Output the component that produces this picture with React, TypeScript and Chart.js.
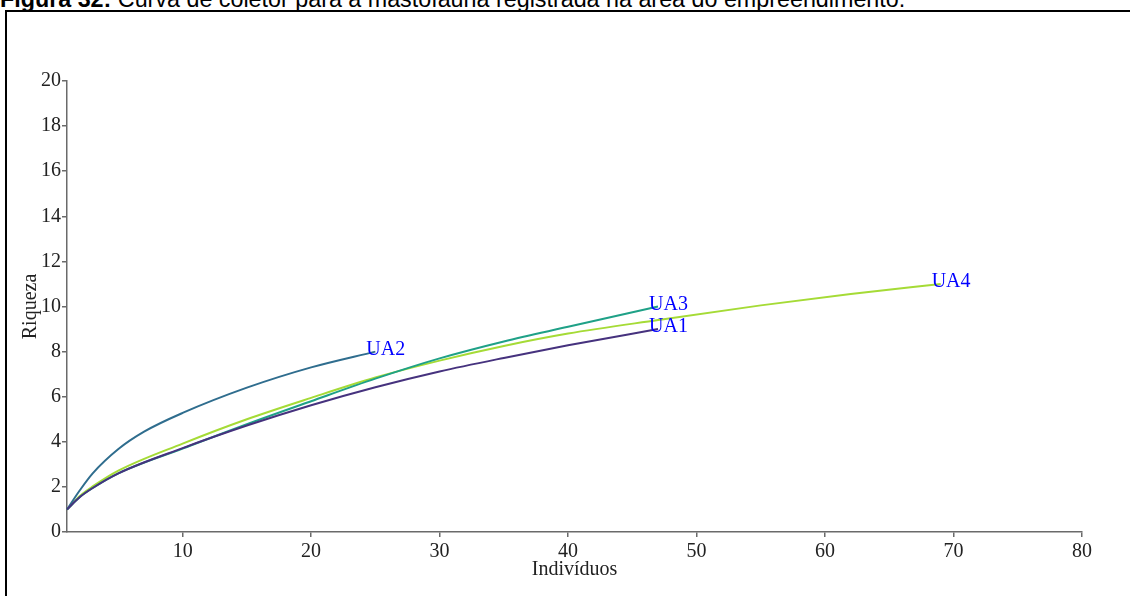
import React, { useEffect, useRef } from "react";
import { Chart, registerables } from "chart.js";

Chart.register(...registerables);

const seriesNames = ["UA1", "UA2", "UA3", "UA4"];
const seriesColors = ["#46327e", "#2f6d8e", "#1fa187", "#a5db36"];

const ua1X = [1, 2, 3, 5, 10, 15, 20, 25, 30, 35, 40, 47];
const ua1Y = [1, 1.55, 1.95, 2.6, 3.72, 4.72, 5.62, 6.42, 7.12, 7.72, 8.28, 9];

const ua2X = [1, 2, 3, 5, 7, 10, 15, 20, 25];
const ua2Y = [1, 1.85, 2.6, 3.68, 4.45, 5.28, 6.4, 7.3, 8];

const ua3X = [1, 2, 3, 5, 10, 15, 20, 25, 30, 35, 40, 47];
const ua3Y = [1, 1.55, 1.95, 2.6, 3.7, 4.78, 5.8, 6.8, 7.7, 8.45, 9.1, 10];

const ua4X = [1, 2, 3, 5, 10, 15, 20, 25, 30, 35, 40, 47, 55, 62, 69];
const ua4Y = [1, 1.6, 2.02, 2.72, 3.92, 5.0, 5.95, 6.85, 7.6, 8.25, 8.8, 9.4, 10.05, 10.55, 11];

const xTicks = [10, 20, 30, 40, 50, 60, 70, 80];
const yTicks = [0, 2, 4, 6, 8, 10, 12, 14, 16, 18, 20];

const allX = [ua1X, ua2X, ua3X, ua4X];
const allY = [ua1Y, ua2Y, ua3Y, ua4Y];

const serif = "'Liberation Serif', 'Times New Roman', serif";

const endLabels = {
  id: "endLabels",
  afterDatasetsDraw(chart: any) {
    const ctx = chart.ctx;
    const xs = chart.scales.x;
    const ys = chart.scales.y;
    ctx.save();
    ctx.font = `20px ${serif}`;
    ctx.fillStyle = "#0000ff";
    ctx.textAlign = "left";
    ctx.textBaseline = "alphabetic";
    chart.data.datasets.forEach((ds: any) => {
      const last = ds.data[ds.data.length - 1];
      const px = xs.getPixelForValue(last.x);
      const py = ys.getPixelForValue(last.y);
      ctx.fillText(ds.label, px - 9, py + 3);
    });
    ctx.restore();
  },
};

export default function App() {
  const ref = useRef<HTMLCanvasElement | null>(null);

  useEffect(() => {
    if (!ref.current) return;
    const axisColor = "#6a6a6a";
    const chart = new Chart(ref.current, {
      type: "line",
      data: {
        datasets: seriesNames.map((name, i) => ({
          label: name,
          data: allX[i].map((x, j) => ({ x, y: allY[i][j] })),
          borderColor: seriesColors[i],
          backgroundColor: seriesColors[i],
          borderWidth: 2,
          pointRadius: 0,
          cubicInterpolationMode: "monotone" as const,
          fill: false,
          clip: 4,
        })),
      },
      options: {
        animation: false,
        responsive: false,
        maintainAspectRatio: false,
        layout: { padding: { left: 0, top: 81, right: 48, bottom: 0 } },
        plugins: {
          legend: { display: false },
          title: { display: false },
          tooltip: { enabled: false },
        },
        scales: {
          x: {
            type: "linear",
            min: 1,
            max: 80,
            afterBuildTicks: (scale: any) => {
              scale.ticks = xTicks.map((v) => ({ value: v }));
            },
            afterFit: (scale: any) => {
              scale.height = 64;
            },
            grid: {
              display: true,
              drawOnChartArea: false,
              drawTicks: true,
              tickLength: 5,
              color: axisColor,
              lineWidth: 1.5,
            },
            border: { display: true, color: axisColor, width: 1.5 },
            ticks: {
              color: "#222",
              font: { family: serif, size: 20 },
              padding: 3,
              maxRotation: 0,
              autoSkip: false,
            },
            title: {
              display: true,
              text: "Indivíduos",
              color: "#222",
              font: { family: serif, size: 20 },
              padding: { top: 14, bottom: 14 },
            },
          },
          y: {
            type: "linear",
            min: 0,
            max: 20,
            afterBuildTicks: (scale: any) => {
              scale.ticks = yTicks.map((v) => ({ value: v }));
            },
            afterFit: (scale: any) => {
              scale.width = 67;
            },
            grid: {
              display: true,
              drawOnChartArea: false,
              drawTicks: true,
              tickLength: 5,
              color: axisColor,
              lineWidth: 1.5,
            },
            border: { display: true, color: axisColor, width: 1.5 },
            ticks: {
              color: "#222",
              font: { family: serif, size: 20 },
              padding: 1,
              autoSkip: false,
            },
            title: {
              display: true,
              text: "Riqueza",
              color: "#222",
              font: { family: serif, size: 20 },
              padding: { top: 19, bottom: 19 },
            },
          },
        },
      },
      plugins: [endLabels],
    });
    return () => chart.destroy();
  }, []);

  return (
    <div
      style={{
        position: "fixed",
        left: 0,
        top: 0,
        width: 1130,
        height: 596,
        overflow: "hidden",
        background: "#fff",
      }}
    >
      <div
        style={{
          position: "absolute",
          left: 0,
          top: -11,
          whiteSpace: "nowrap",
          fontFamily: "'Liberation Sans', Arial, sans-serif",
          fontSize: 23.3,
          lineHeight: "20px",
          color: "#000",
        }}
      >
        <b>Figura 32:</b> Curva de coletor para a mastofauna registrada na área do empreendimento.
      </div>
      <div
        style={{
          position: "absolute",
          left: 5,
          top: 10,
          width: 1200,
          height: 700,
          border: "2px solid #000",
          boxSizing: "border-box",
        }}
      />
      <canvas
        ref={ref}
        width={1130}
        height={596}
        style={{ position: "absolute", left: 0, top: 0, width: 1130, height: 596 }}
      />
    </div>
  );
}
